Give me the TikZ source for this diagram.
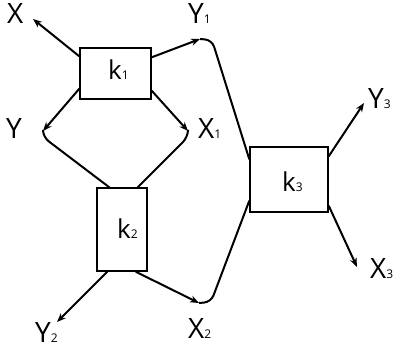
\documentclass[tikz,border=0pt]{standalone}
\usepackage{fontspec}
\setmainfont{Open Sans}
\usetikzlibrary{arrows.meta,calc}
\newcommand{\lbl}[2]{#1{\fontsize{12}{12}\selectfont #2}}
\begin{document}
\begin{tikzpicture}[x=1pt,y=-1pt,
  box/.style={draw,line width=1.4pt,inner sep=0pt,fill=white},
  lab/.style={anchor=base west,inner sep=0pt,font=\fontsize{28}{28}\selectfont},
  klab/.style={anchor=base west,inner sep=0pt,font=\fontsize{26}{26}\selectfont},
  wire/.style={line width=2pt},
  arr/.style={wire,-{Stealth[length=9pt,width=7pt]}},
  roundwire/.style={wire,rounded corners=7pt}]
\useasboundingbox (0,0) rectangle (395,351);
% boxes
\node[box,minimum width=71pt,minimum height=51pt] (k1) at (115.5,73.5) {};
\node[box,minimum width=50pt,minimum height=83pt] (k2) at (122,229.5) {};
\node[box,minimum width=78pt,minimum height=65pt] (k3) at (289,179.5) {};
\node[klab] (t1) at (108,79) {\lbl{k}{1}};
\node[klab] (t2) at (117,238) {\lbl{k}{2}};
\node[klab] (t3) at (282,191) {\lbl{k}{3}};
% labels
\node[lab] (lX) at (7,23) {X};
\node[lab] (lY1) at (188,23) {\lbl{Y}{1}};
\node[lab] (lY) at (6,138) {Y};
\node[lab] (lX1) at (198,138) {\lbl{X}{1}};
\node[lab] (lY2) at (35,342) {\lbl{Y}{2}};
\node[lab] (lX2) at (188,338) {\lbl{X}{2}};
\node[lab] (lY3) at (368,108) {\lbl{Y}{3}};
\node[lab] (lX3) at (370,278) {\lbl{X}{3}};
% coordinates
\coordinate (pX) at (33,19);
\coordinate (pY1) at (200,39);
\coordinate (cY1) at (212,40);
\coordinate (pY) at (43,131);
\coordinate (cY) at (43,137);
\coordinate (pX1) at (188,131);
\coordinate (cX1) at (188,137);
\coordinate (pY2) at (57,322);
\coordinate (pX2) at (199,303);
\coordinate (cX2) at (211,302);
\coordinate (pY3) at (364,103);
\coordinate (pX3) at (357,267);
% k1 outputs
\draw[arr] ([yshift=-9pt]k1.north west) -- (pX);
\draw[arr] ([yshift=-10pt]k1.north east) -- (pY1);
\draw[roundwire] (pY1) -- (cY1) -- ([yshift=-13pt]k3.north west);
\draw[arr] ([yshift=11pt]k1.south west) -- (pY);
\draw[roundwire] (pY) -- (cY) -- ([xshift=13pt]k2.north west);
\draw[arr] ([yshift=9pt]k1.south east) -- (pX1);
\draw[roundwire] (pX1) -- (cX1) -- ([xshift=-10pt]k2.north east);
% k2 outputs
\draw[arr] ([xshift=11pt]k2.south west) -- (pY2);
\draw[arr] ([xshift=-12pt]k2.south east) -- (pX2);
\draw[roundwire] (pX2) -- (cX2) -- ([yshift=12pt]k3.south west);
% k3 outputs
\draw[arr] ([yshift=-10pt]k3.north east) -- (pY3);
\draw[arr] ([yshift=7pt]k3.south east) -- (pX3);
\end{tikzpicture}
\end{document}
